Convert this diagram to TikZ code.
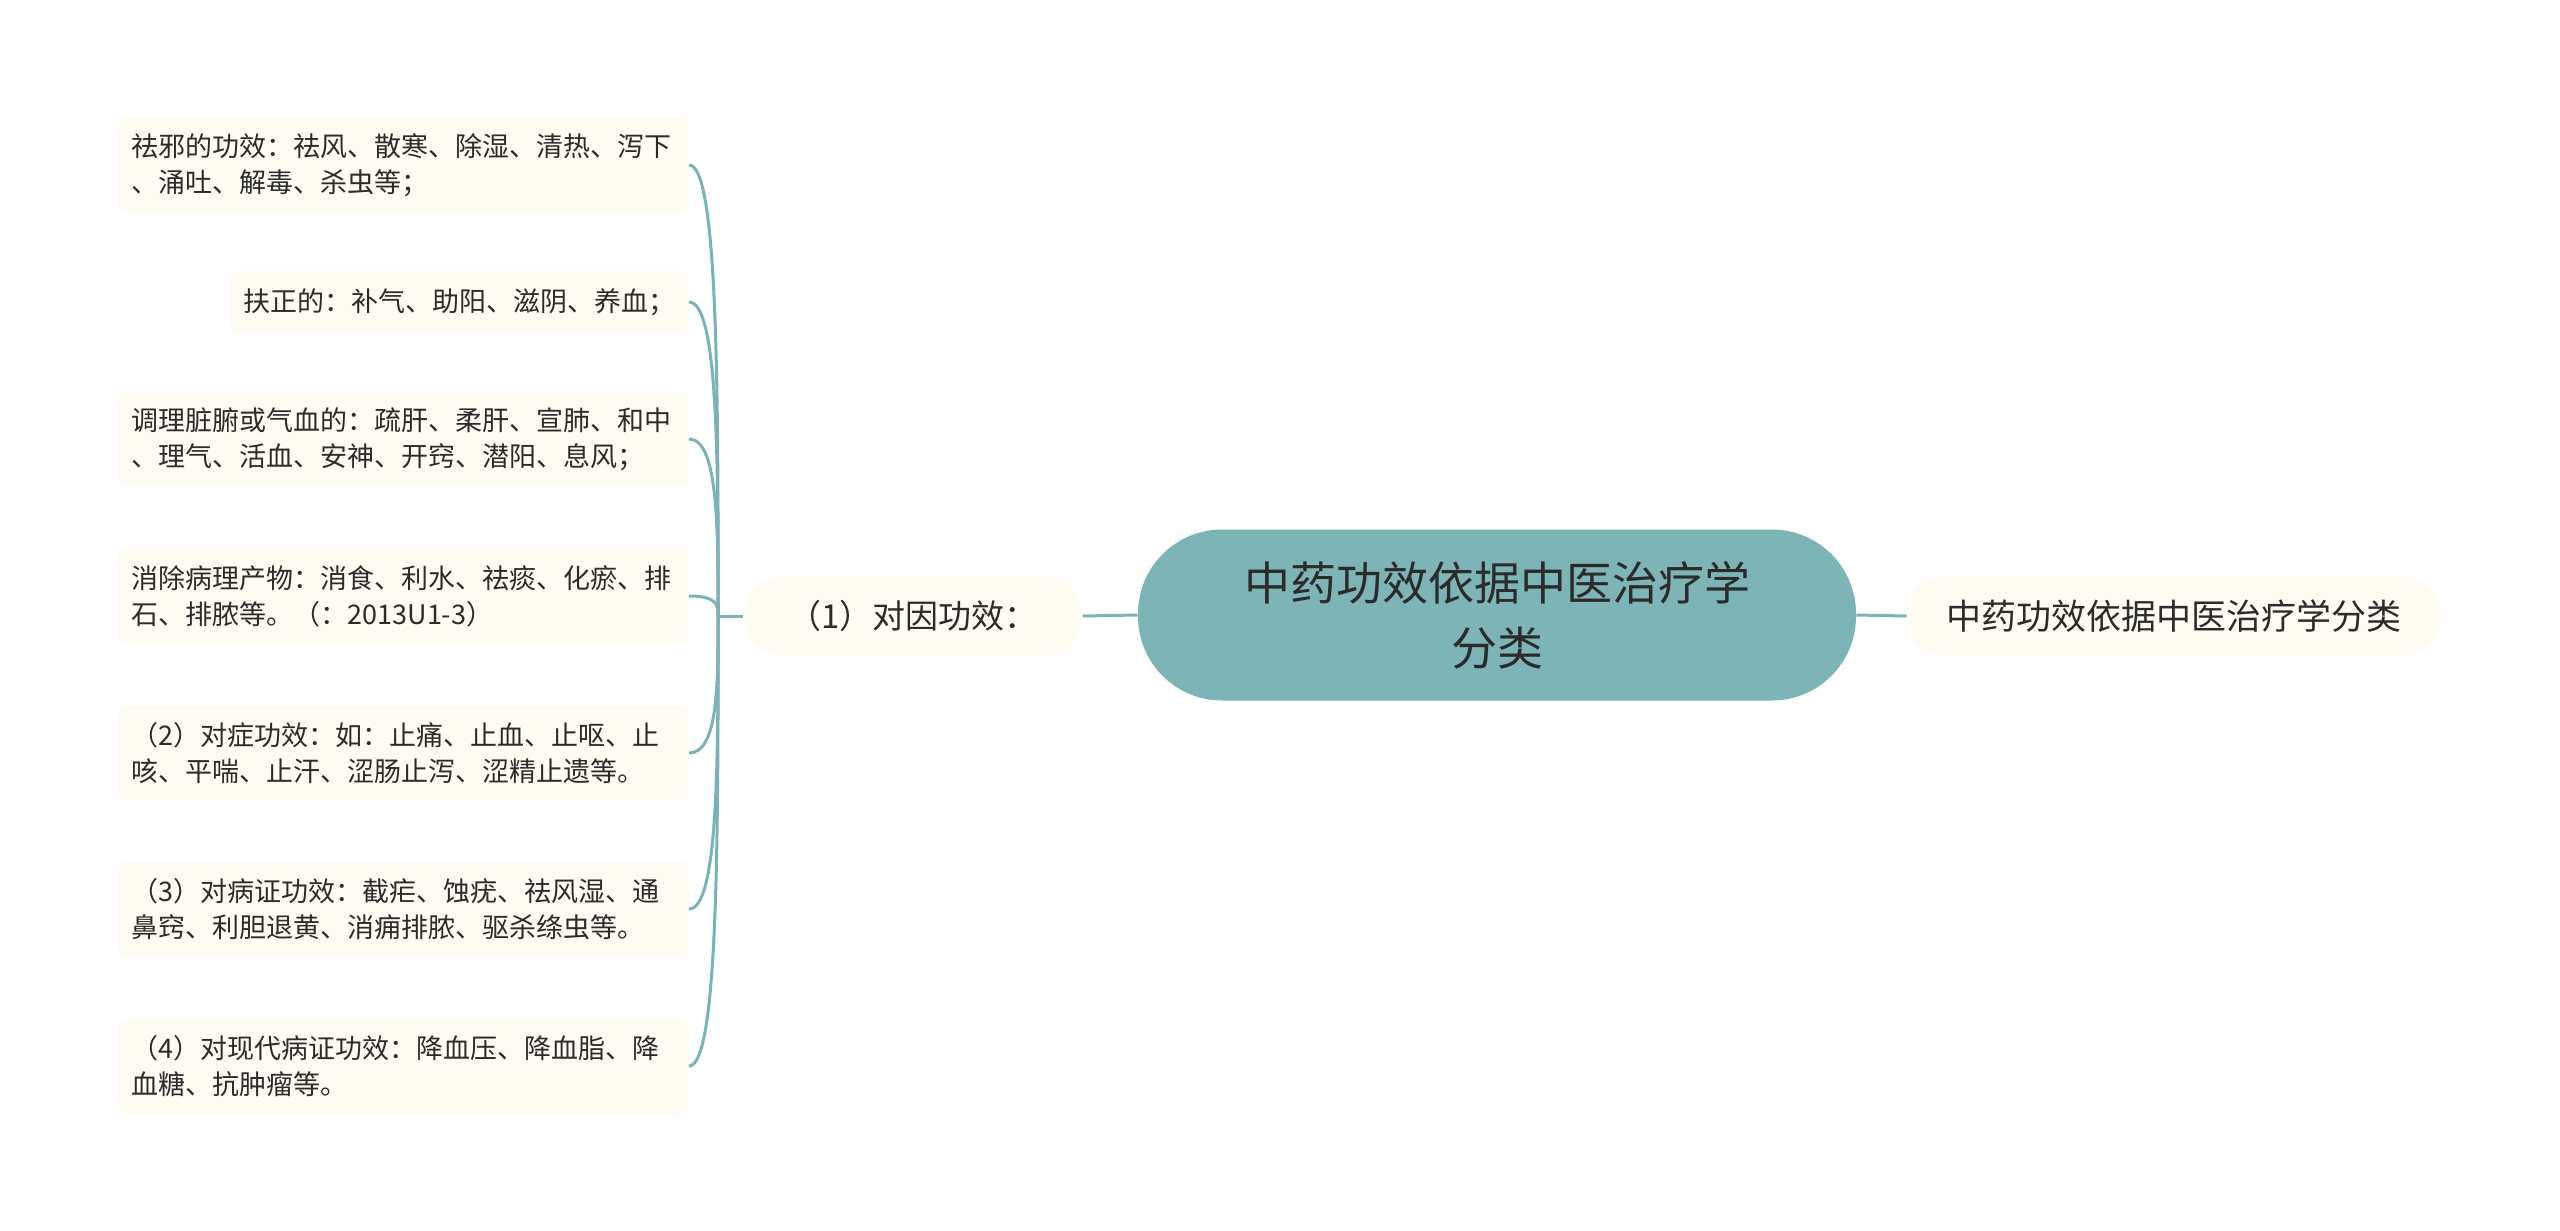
\documentclass[tikz,border=0pt]{standalone}
\usepackage{fontspec}
\setmainfont{Noto Sans CJK SC}
\usepackage{tikz}
\usetikzlibrary{calc}
\usepackage{xcolor}
\definecolor{rootbg}{HTML}{7DB4B6}
\definecolor{leafbg}{HTML}{FDFBF2}
\definecolor{linkcol}{HTML}{7AB3B5}
\definecolor{txt}{HTML}{2B2B2B}

\begin{document}
\begin{tikzpicture}[x=0.5pt, y=-0.5pt,
    leaf/.style={fill=leafbg, rounded corners=4pt, inner xsep=6.5pt, inner ysep=0pt,
        minimum height=47.5pt, align=left, text=txt, anchor=east,
        font=\fontsize{13.5}{18}\selectfont},
    pill/.style={fill=leafbg, rounded corners=20pt, minimum height=40.5pt, text=txt},
    link/.style={draw=linkcol, line width=1.5pt}]
    \useasboundingbox (0,0) rectangle (2560,1231);
    % main topic and its two sides
    \node[fill=rootbg, rounded corners=42pt, minimum width=359pt, minimum height=85.5pt,
        align=center, text=txt, font=\fontsize{23}{32.5}\selectfont] (root) at (1497,615)
        {中药功效依据中医治疗学\\分类};
    \node[pill, minimum width=169.5pt, font=\fontsize{16.5}{20}\selectfont] (cause) at (913,616) {（1）对因功效：};
    \node[pill, minimum width=267pt, font=\fontsize{17.5}{20}\selectfont] (topic) at (2174,616) {中药功效依据中医治疗学分类};
    % left leaves
    \node[leaf, text width=272pt] (c1) at (689,165) {祛邪的功效：祛风、散寒、除湿、清热、泻下\\、涌吐、解毒、杀虫等；};
    \node[leaf, minimum height=31pt] (c2) at (689,302) {扶正的：补气、助阳、滋阴、养血；};
    \node[leaf, text width=272pt] (c3) at (689,439) {调理脏腑或气血的：疏肝、柔肝、宣肺、和中\\、理气、活血、安神、开窍、潜阳、息风；};
    \node[leaf, text width=272pt] (c4) at (689,596) {消除病理产物：消食、利水、祛痰、化瘀、排\\石、排脓等。（：2013U1-3）};
    \node[leaf, text width=272pt] (c5) at (689,753) {（2）对症功效：如：止痛、止血、止呕、止\\咳、平喘、止汗、涩肠止泻、涩精止遗等。};
    \node[leaf, text width=272pt] (c6) at (689,909) {（3）对病证功效：截疟、蚀疣、祛风湿、通\\鼻窍、利胆退黄、消痈排脓、驱杀绦虫等。};
    \node[leaf, text width=272pt] (c7) at (689,1066) {（4）对现代病证功效：降血压、降血脂、降\\血糖、抗肿瘤等。};
    % connectors
    \draw[link] (root.west) -- (cause.east);
    \draw[link] (root.east) -- (topic.west);
    \coordinate (fork) at ($(cause.west)+(-25,0)$);
    \draw[link] (cause.west) -- (fork);
    \foreach \n in {c1,c2,c3,c4,c5,c6,c7}
        \draw[link] (fork) .. controls ($(fork)!0.5!(fork |- \n.east)$) and (fork |- \n.east) .. (\n.east);
\end{tikzpicture}
\end{document}
